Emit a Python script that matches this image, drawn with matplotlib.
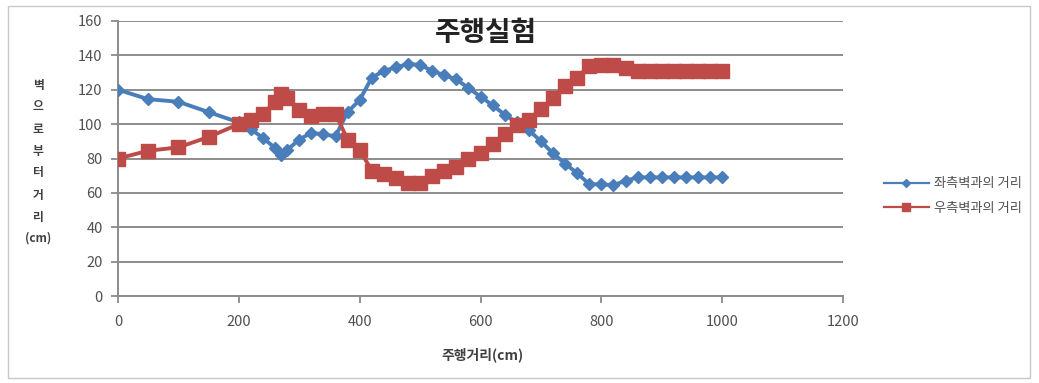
import matplotlib
matplotlib.use("Agg")
import matplotlib.pyplot as plt
from matplotlib.patches import Rectangle

plt.rcParams['font.family'] = ['Noto Sans CJK KR', 'DejaVu Sans']

# Driving distance (cm) and measured distances to each wall (cm)
distance = [0, 50, 100, 150, 200, 220, 240, 260, 270, 280, 300, 320, 340, 360,
            380, 400, 420, 440, 460, 480, 500, 520, 540, 560, 580, 600, 620,
            640, 660, 680, 700, 720, 740, 760, 780, 800, 820, 840, 860, 880,
            900, 920, 940, 960, 980, 1000]
left_wall = [120, 114.5, 113, 107, 101, 97, 92, 86, 82, 85, 91, 95, 94, 93,
             107, 114, 127, 131, 133, 135, 134.5, 131, 128.5, 126, 121, 116, 111,
             105.5, 101, 96.5, 90, 83, 77, 71.5, 65, 65, 64.5, 67, 69, 69,
             69, 69, 69, 69, 69, 69]
right_wall = [80, 84.5, 86.5, 92.5, 100, 102.5, 106, 113, 117.5, 115, 108, 105, 106, 106,
              91, 85, 73, 71, 68.5, 66, 66, 70, 73, 75, 79.5, 83, 88.5,
              94.5, 99.5, 102.5, 109, 115, 122, 127, 134, 134.5, 134.5, 132.5, 131, 131,
              131, 131, 131, 131, 131, 131]

title = "주행실험"
x_label = "주행거리(cm)"
y_label_chars = ["벽", "으", "로", "부", "터", "거", "리", "(cm)"]
series_names = ["좌측벽과의 거리", "우측벽과의 거리"]
x_ticks = [0, 200, 400, 600, 800, 1000, 1200]
y_ticks = [0, 20, 40, 60, 80, 100, 120, 140, 160]

W, H = 1039, 383
fig = plt.figure(figsize=(W / 100, H / 100), dpi=100)
fig.patch.set_facecolor("white")

# chart-area frame
fig.patches.append(Rectangle((8 / W, 5 / H), 1022 / W, 372 / H, transform=fig.transFigure,
                             fill=False, edgecolor="#c8c8c8", linewidth=1.0))

ax = fig.add_axes([118 / W, 1 - 296 / H, (843 - 118) / W, (296 - 21) / H])
ax.set_xlim(0, 1200)
ax.set_ylim(0, 160)
ax.set_xticks(x_ticks)
ax.set_yticks(y_ticks)
ax.tick_params(axis="both", direction="out", length=5, width=1.2, colors="#808080",
               labelcolor="#505050", labelsize=10.5)
ax.tick_params(axis="x", pad=9)
ax.tick_params(axis="y", pad=6)
for lbl in ax.get_xticklabels() + ax.get_yticklabels():
    lbl.set_fontweight("medium")
ax.grid(axis="y", color="#8c8c8c", linewidth=1.4)
ax.set_axisbelow(True)
for side in ("top", "right"):
    ax.spines[side].set_visible(False)
for side in ("left", "bottom"):
    ax.spines[side].set_color("#8c8c8c")
    ax.spines[side].set_linewidth(1.4)

blue = "#4A7EBB"
red = "#BE4B48"
ax.plot(distance, left_wall, color=blue, linewidth=2.8, marker="D", markersize=6.5,
        markeredgecolor=blue, label=series_names[0], zorder=3)
ax.plot(distance, right_wall, color=red, linewidth=2.8, marker="s", markersize=10.5,
        markeredgecolor=red, label=series_names[1], zorder=3)

fig.text(486 / W, 1 - 33 / H, title, ha="center", va="center", fontsize=20,
         fontweight="bold", color="#222222")
fig.text(482 / W, 1 - 355 / H, x_label, ha="center", va="center", fontsize=10,
         fontweight="bold", color="#404040")
y_rows = [85, 107, 130, 152, 173, 195, 217, 238]
for ch, yy in zip(y_label_chars, y_rows):
    fig.text(38 / W, 1 - yy / H, ch, ha="center", va="center", fontsize=8.5,
             fontweight="bold", color="#404040")

# legend on the right
leg = fig.legend(loc="center left", bbox_to_anchor=(872 / W, 1 - 196 / H), frameon=False,
                 fontsize=9.5, handlelength=3.4, handletextpad=0.4, labelspacing=0.85,
                 labelcolor="#505050", markerscale=0.6)
for line in leg.get_lines():
    line.set_linewidth(1.6)

fig.savefig("out.png", dpi=100, facecolor="white")
